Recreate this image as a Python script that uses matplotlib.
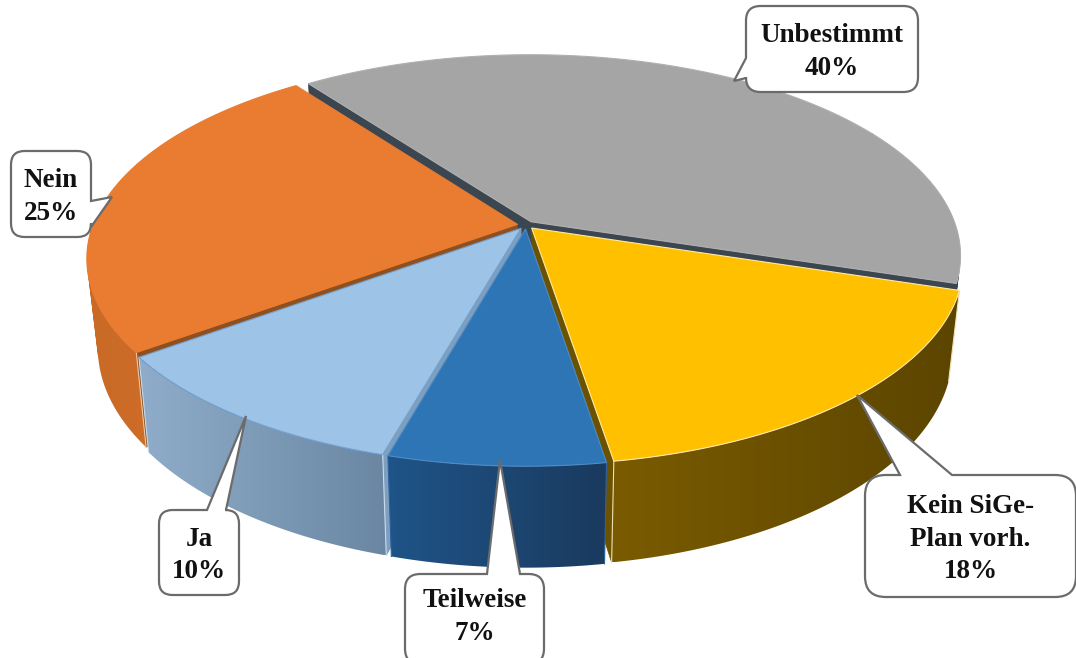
from matplotlib import pyplot as plt
from matplotlib.path import Path
from matplotlib.patches import PathPatch
import numpy as np

#================================================================================================================================================
# slices, clockwise from the gray one. shares are read off the picture, the printed percent is in labels
names = ['Unbestimmt', 'Kein SiGe-\nPlan vorh.', 'Teilweise', 'Ja', 'Nein']
labels = ['40%', '18%', '7%', '10%', '25%']
shares = [40.0, 17.6, 6.9, 10.6, 24.9]
topColors = ['#a5a5a5', '#ffc000', '#2e75b6', '#9dc3e6', '#e97c30']
wallLeft = ['#3c4650', '#7a5b00', '#1f5488', '#8fadca', '#c96a28']
wallRight = ['#3c4650', '#5c4500', '#1a3a5e', '#6a86a2', '#cf6e26']
cutColors = ['#3c4650', '#6b5200', '#1f4e79', '#7f9fbf', '#8f4f1e']
rimColors = ['#b0b0b0', '#ffe9a8', '#4f8ac4', '#6fa0d0', '#e97c30']
wallEdges = ['#3c4650', '#efe0b4', '#2f62a0', '#c8dcef', '#eec9a8']
# callout boxes: x0, y0, x1, y1, side of the tail, tail start, tail end, tip x, tip y
boxes = [(746, 6, 918, 92, 'left', 58, 78, 734, 81),
         (865, 475, 1076, 597, 'top', 900, 952, 857, 395),
         (405, 574, 544, 664, 'top', 487, 520, 500, 460),
         (159, 510, 239, 595, 'top', 207, 226, 246, 416),
         (11, 151, 91, 237, 'right', 201, 227, 112, 197)]

startAngle = -36.5
centerX, centerY = 526, 225
scaleX, scaleY = 431, 199
persp = 0.17
radius = 0.985
explode = 0.02
depth = 87
shrinkX, growY = 0.975, 1.06

#================================================================================================================================================
def project(u, v, lower=False):
    w = 1 / (1 - persp * v)
    sx = scaleX * u * w
    sy = scaleY * v * w
    if lower:
        return centerX + sx * shrinkX, centerY + sy * growY + depth
    return centerX + sx, centerY + sy

#================================================================================================================================================
def wallGradient(c1, c2):
    a = np.array([int(c1[i:i + 2], 16) for i in (1, 3, 5)])
    b = np.array([int(c2[i:i + 2], 16) for i in (1, 3, 5)])
    f = np.linspace(0, 1, 256)[:, None]
    return ((a + (b - a) * f) / 255)[None, :, :]

#================================================================================================================================================
def wallPath(topX, topY, lowX, lowY):
    # one quad per step, all turned the same way so they add up when used as clip
    verts = []
    codes = []
    for k in range(len(topX) - 1):
        q = [(topX[k], topY[k]), (topX[k + 1], topY[k + 1]), (lowX[k + 1], lowY[k + 1]), (lowX[k], lowY[k])]
        area = sum(q[j][0] * q[(j + 1) % 4][1] - q[(j + 1) % 4][0] * q[j][1] for j in range(4))
        if area < 0:
            q = q[::-1]
        verts += q + [q[0]]
        codes += [Path.MOVETO, Path.LINETO, Path.LINETO, Path.LINETO, Path.CLOSEPOLY]
    return Path(verts, codes)

#================================================================================================================================================
def drawSlice(ax, a0, a1, i, z):
    mid = np.radians((a0 + a1) / 2)
    offU, offV = explode * np.sin(mid), -explode * np.cos(mid)
    ts = np.radians(np.linspace(a0, a1, 121))
    us = offU + radius * np.sin(ts)
    vs = offV - radius * np.cos(ts)

    # cut faces, only the ones turned to the viewer
    for t, u, v, sign in [(ts[0], us[0], vs[0], -1), (ts[-1], us[-1], vs[-1], 1)]:
        if sign * np.sin(t) > 0:
            p = [project(offU, offV), project(u, v), project(u, v, True), project(offU, offV, True)]
            ax.fill([q[0] for q in p], [q[1] for q in p], color=cutColors[i], lw=0.5, zorder=z)

    topX, topY = project(us, vs)
    lowX, lowY = project(us, vs, True)

    # outer wall, gradient runs from left to right and is clipped to the wall
    front = vs > -0.5
    wallX = np.r_[topX[front], lowX[front]]
    wallY = np.r_[topY[front], lowY[front]]
    clip = PathPatch(wallPath(topX[front], topY[front], lowX[front], lowY[front]), transform=ax.transData,
                     facecolor='none', edgecolor='none')
    ax.add_patch(clip)
    im = ax.imshow(wallGradient(wallLeft[i], wallRight[i]), extent=[wallX.min(), wallX.max(), wallY.max(), wallY.min()],
                   aspect='auto', zorder=z + 0.1, interpolation='bilinear')
    im.set_clip_path(clip)
    for k in [np.argmax(front), len(ts) - 1 - np.argmax(front[::-1])]:
        ax.plot([topX[k], lowX[k]], [topY[k], lowY[k]], color=wallEdges[i], lw=0.8, zorder=z + 0.15)

    # top face
    apX, apY = project(offU, offV)
    ax.fill(np.r_[apX, topX], np.r_[apY, topY], facecolor=topColors[i], edgecolor=rimColors[i], lw=0.8, zorder=z + 0.2)

#================================================================================================================================================
def drawCallout(ax, box, text):
    x0, y0, x1, y1, side, a, b, tipX, tipY = box
    r = 0.17 * min(x1 - x0, y1 - y0)
    verts = [(x0 + r, y0)]
    codes = [Path.MOVETO]
    if side == 'top':
        verts += [(a, y0), (tipX, tipY), (b, y0)]
        codes += [Path.LINETO] * 3
    verts += [(x1 - r, y0), (x1, y0), (x1, y0 + r)]
    codes += [Path.LINETO, Path.CURVE3, Path.CURVE3]
    if side == 'right':
        verts += [(x1, a), (tipX, tipY), (x1, b)]
        codes += [Path.LINETO] * 3
    verts += [(x1, y1 - r), (x1, y1), (x1 - r, y1), (x0 + r, y1), (x0, y1), (x0, y1 - r)]
    codes += [Path.LINETO, Path.CURVE3, Path.CURVE3, Path.LINETO, Path.CURVE3, Path.CURVE3]
    if side == 'left':
        verts += [(x0, b), (tipX, tipY), (x0, a)]
        codes += [Path.LINETO] * 3
    verts += [(x0, y0 + r), (x0, y0), (x0 + r, y0)]
    codes += [Path.LINETO, Path.CURVE3, Path.CURVE3]
    ax.add_patch(PathPatch(Path(verts, codes), facecolor='white', edgecolor='#6b6b6b', lw=1.6, zorder=50))
    ax.text((x0 + x1) / 2, (y0 + min(y1, 654)) / 2 + 3, text, ha='center', va='center', zorder=51, linespacing=1.4,
            family='Liberation Serif', weight='bold', fontsize=19.5, color='#111111')

#================================================================================================================================================
def main():
    fig = plt.figure(figsize=(10.76, 6.58), dpi=100)
    ax = fig.add_axes([0, 0, 1, 1])

    ends = startAngle + np.cumsum(shares) * 3.6
    starts = np.r_[startAngle, ends[:-1]]
    # back to front
    for z, i in enumerate([0, 4, 1, 3, 2]):
        drawSlice(ax, starts[i], ends[i], i, z + 1)

    for i in range(len(names)):
        drawCallout(ax, boxes[i], names[i] + '\n' + labels[i])

    ax.set_xlim(0, 1076)
    ax.set_ylim(658, 0)
    ax.axis('off')
    fig.savefig('out.png', dpi=100)


if __name__ == "__main__":
    main()
